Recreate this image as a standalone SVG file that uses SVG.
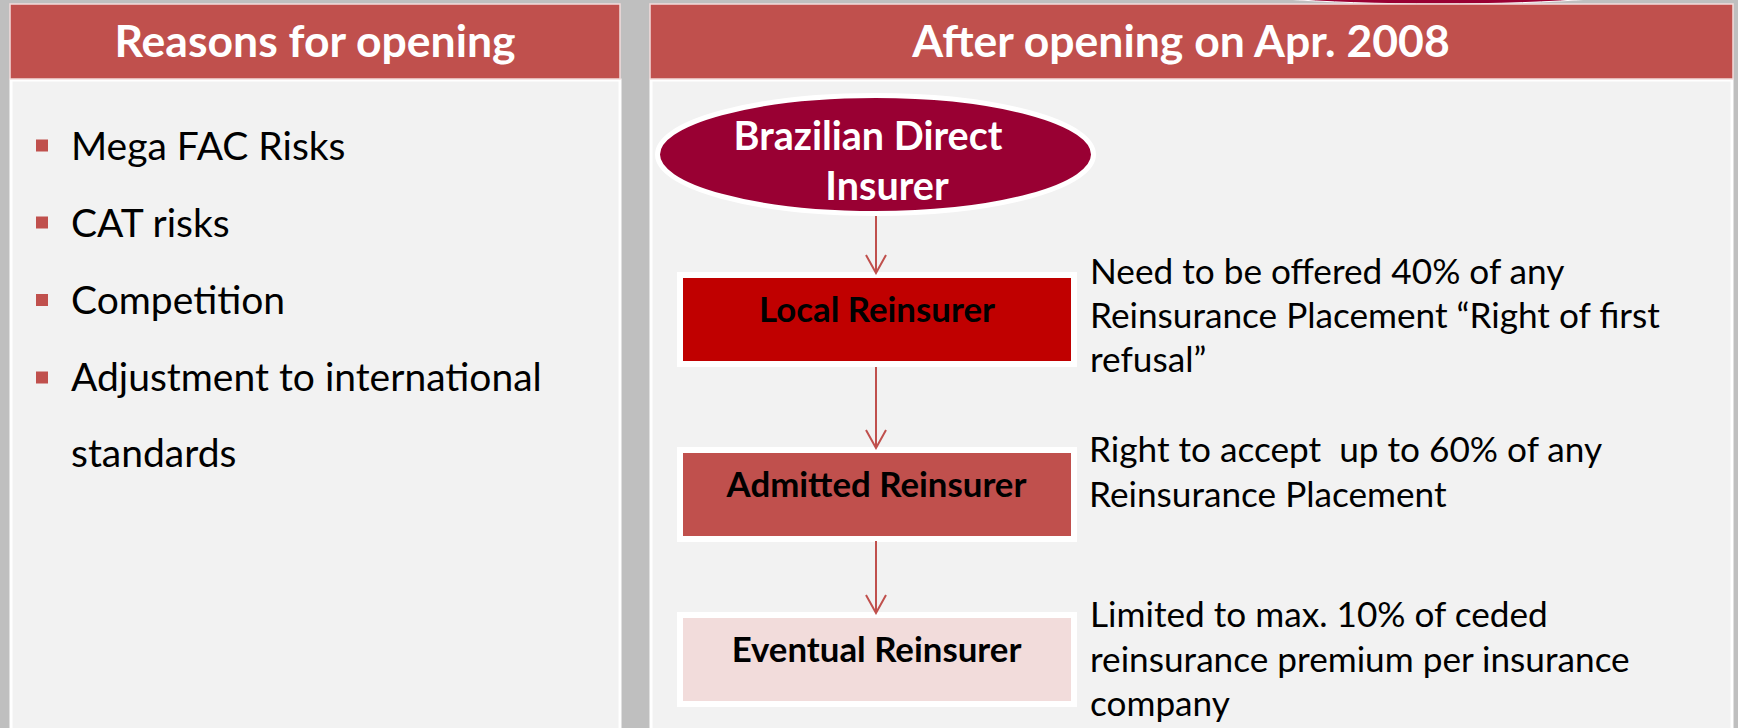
<svg xmlns="http://www.w3.org/2000/svg" width="1738" height="728" viewBox="0 0 1738 728">
  <style>
    .panel { fill: #f2f2f2; stroke: #ffffff; stroke-width: 3; }
    .header { fill: #c0504d; stroke: #f2dcdb; stroke-width: 1.5; }
    .title { font-family: Lato, "Open Sans", sans-serif; font-weight: bold; font-size: 44.5px; fill: #ffffff; text-anchor: middle; }
    .bullet { fill: #c0504d; }
    .item { font-family: Lato, "Open Sans", sans-serif; font-size: 39px; fill: #000000; }
    .desc { font-family: Lato, "Open Sans", sans-serif; font-size: 35.2px; fill: #000000; }
    .box { stroke: #ffffff; stroke-width: 6; }
    .boxlabel { font-family: Lato, "Open Sans", sans-serif; font-weight: bold; font-size: 34.8px; fill: #000000; text-anchor: middle; }
    .elabel { font-family: Lato, "Open Sans", sans-serif; font-weight: bold; font-size: 39.5px; fill: #ffffff; text-anchor: middle; }
    .conn { stroke: #c0504d; stroke-width: 2; fill: none; }
  </style>
  <defs>
    <marker id="arrow" viewBox="-1 -11 21 22" refX="18" refY="0" markerWidth="21" markerHeight="22" markerUnits="userSpaceOnUse" orient="auto">
      <path d="M0,-10 L18,0 L0,10" fill="none" stroke="#c0504d" stroke-width="2"/>
    </marker>
  </defs>

  <rect x="0" y="0" width="1738" height="728" fill="#bfbfbf"/>

  <!-- partially visible shape at the top edge -->
  <ellipse cx="1438" cy="-14" rx="220" ry="18" fill="#990033" stroke="#ffffff" stroke-width="1"/>

  <!-- Left panel -->
  <g id="panel-reasons">
    <rect class="panel" x="11" y="80" width="609" height="660"/>
    <rect class="header" x="10" y="4" width="610" height="75"/>
    <text class="title" x="315" y="57">Reasons for opening</text>
    <rect class="bullet" x="36" y="139.5" width="12" height="12"/>
    <text class="item" x="71" y="160">Mega FAC Risks</text>
    <rect class="bullet" x="36" y="216.5" width="12" height="12"/>
    <text class="item" x="71" y="237">CAT risks</text>
    <rect class="bullet" x="36" y="294" width="12" height="12"/>
    <text class="item" x="71" y="314">Competition</text>
    <rect class="bullet" x="36" y="371.5" width="12" height="12"/>
    <text class="item" x="71" y="391">Adjustment to international</text>
    <text class="item" x="71" y="467">standards</text>
  </g>

  <!-- Right panel -->
  <g id="panel-after">
    <rect class="panel" x="651" y="80" width="1081" height="660"/>
    <rect class="header" x="650" y="4" width="1083" height="75"/>
    <text class="title" x="1181" y="57">After opening on Apr. 2008</text>
  </g>

  <g id="node-direct-insurer">
    <ellipse cx="875.5" cy="154.5" rx="218" ry="59" fill="#990033" stroke="#ffffff" stroke-width="5"/>
    <text class="elabel" x="868" y="150">Brazilian Direct</text>
    <text class="elabel" x="887" y="200">Insurer</text>
  </g>

  <g id="node-local">
    <rect class="box" x="680" y="275" width="394" height="89" fill="#c00000"/>
    <text class="boxlabel" x="877" y="322">Local Reinsurer</text>
  </g>

  <g id="node-admitted">
    <rect class="box" x="680" y="450" width="394" height="89" fill="#c0504d"/>
    <text class="boxlabel" x="876.5" y="497">Admitted Reinsurer</text>
  </g>

  <g id="node-eventual">
    <rect class="box" x="680" y="615" width="394" height="89" fill="#f2dcdb"/>
    <text class="boxlabel" x="876.5" y="662">Eventual Reinsurer</text>
  </g>

  <g id="note-local">
    <text class="desc" x="1090" y="283.5">Need to be offered 40% of any</text>
    <text class="desc" x="1090" y="328">Reinsurance Placement “Right of first</text>
    <text class="desc" x="1090" y="372">refusal”</text>
  </g>

  <g id="note-admitted">
    <text class="desc" x="1089" y="462" xml:space="preserve">Right to accept  up to 60% of any</text>
    <text class="desc" x="1089" y="507">Reinsurance Placement</text>
  </g>

  <g id="note-eventual">
    <text class="desc" x="1090" y="627">Limited to max. 10% of ceded</text>
    <text class="desc" x="1090" y="672">reinsurance premium per insurance</text>
    <text class="desc" x="1090" y="716">company</text>
  </g>

  <g id="connectors">
    <line class="conn" x1="876" y1="216" x2="876" y2="273" marker-end="url(#arrow)"/>
    <line class="conn" x1="876" y1="367" x2="876" y2="448" marker-end="url(#arrow)"/>
    <line class="conn" x1="876" y1="541" x2="876" y2="613" marker-end="url(#arrow)"/>
  </g>
</svg>
